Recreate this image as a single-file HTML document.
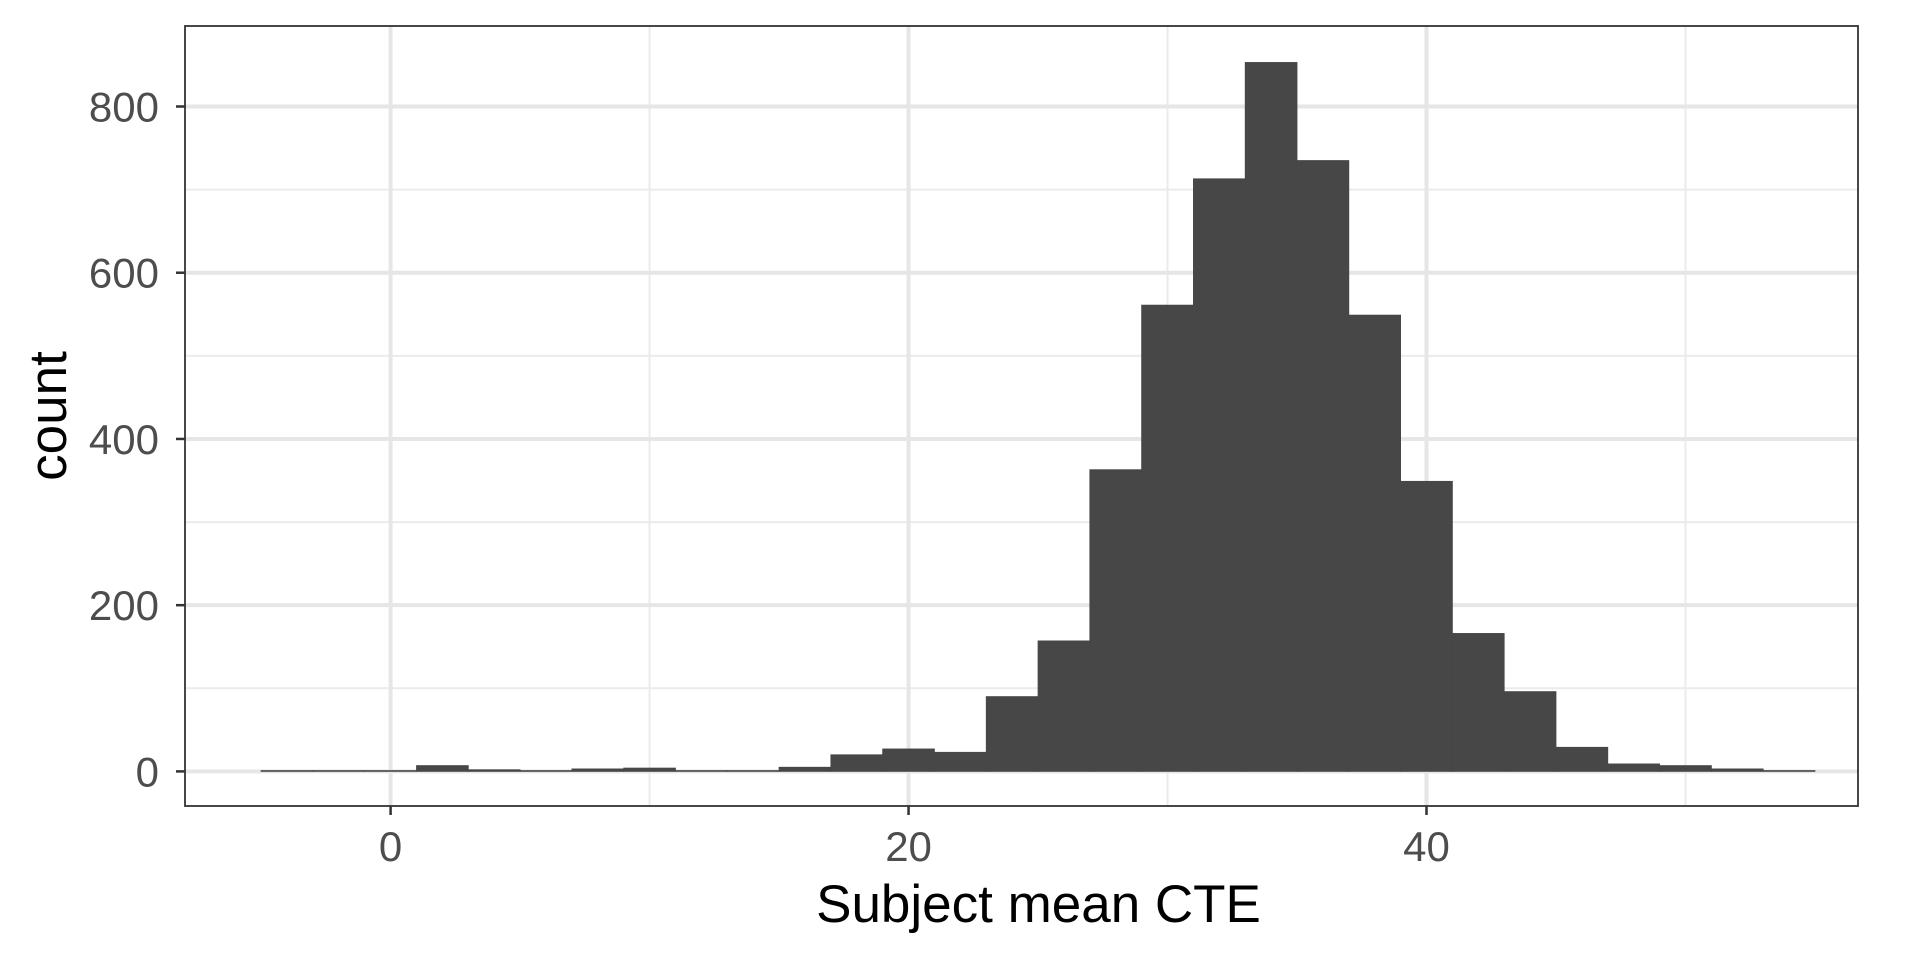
<!DOCTYPE html>
<html><head><meta charset="utf-8"><style>
html,body{margin:0;padding:0;background:#fff;}
svg{display:block;font-family:"Liberation Sans",Arial,sans-serif;}
</style></head><body>
<svg id="chart" width="1920" height="960"></svg>
<script>
const binStarts = [-5,-3,-1,1,3,5,7,9,11,13,15,17,19,21,23,25,27,29,31,33,35,37,39,41,43,45,47,49,51,53];
const counts = [1,1,1,7,2,1,3,4,1,1,5,20,27,23,90,157,363,561,713,853,735,549,349,166,96,29,9,7,3,1];
const binWidth = 2;
const xTicks = [0,20,40];
const xMinor = [10,30,50];
const yTicks = [0,200,400,600,800];
const yMinor = [100,300,500,700];

const NS='http://www.w3.org/2000/svg';
const svg=document.getElementById('chart');
const P={l:185,r:1858,t:26,b:806};
const X=v=>390.6+(v-0)*(1426.5-390.6)/40;
const Y=v=>771.4-v*(771.4-106.5)/800;
function el(t,a,p){const e=document.createElementNS(NS,t);for(const k in a)e.setAttribute(k,a[k]);(p||svg).appendChild(e);return e;}

el('rect',{x:P.l,y:P.t,width:P.r-P.l,height:P.b-P.t,fill:'#fff'});
const grid=el('g',{});


yMinor.forEach(v=>el('line',{x1:P.l,x2:P.r,y1:Y(v),y2:Y(v),stroke:'#ebebeb','stroke-width':2},grid));
xMinor.forEach(v=>el('line',{y1:P.t,y2:P.b,x1:X(v),x2:X(v),stroke:'#ebebeb','stroke-width':2},grid));
yTicks.forEach(v=>el('line',{x1:P.l,x2:P.r,y1:Y(v),y2:Y(v),stroke:'#e6e6e6','stroke-width':4},grid));
xTicks.forEach(v=>el('line',{y1:P.t,y2:P.b,x1:X(v),x2:X(v),stroke:'#e6e6e6','stroke-width':4},grid));

const bars=el('g',{});


binStarts.forEach((s,i)=>{
  const r=el('rect',{x:X(s),width:X(s+binWidth)-X(s),y:Y(counts[i]),height:Y(0)-Y(counts[i]),fill:'#474747',stroke:'#474747','stroke-width':0.8},bars);
  
  
});

const border=el('rect',{x:P.l,y:P.t,width:P.r-P.l,height:P.b-P.t,fill:'none',stroke:'#333','stroke-width':1.8});



xTicks.forEach(v=>{
  el('line',{x1:X(v),x2:X(v),y1:P.b,y2:P.b+9,stroke:'#333','stroke-width':2.5});
  const t=el('text',{x:X(v),y:P.b+55,'text-anchor':'middle','font-size':42,fill:'#4d4d4d'});
  t.textContent=v;
  
  
});
yTicks.forEach(v=>{
  el('line',{x1:P.l-9,x2:P.l,y1:Y(v),y2:Y(v),stroke:'#333','stroke-width':2.5});
  const t=el('text',{x:P.l-26,y:Y(v)+15,'text-anchor':'end','font-size':42,fill:'#4d4d4d'});
  t.textContent=v;
  
  
});
const xt=el('text',{x:(P.l+P.r)/2+17,y:922,'text-anchor':'middle','font-size':53,fill:'#000'});
xt.textContent='Subject mean CTE';


const yt=el('text',{x:0,y:0,'text-anchor':'middle','font-size':53,fill:'#000',transform:'translate(66,'+((P.t+P.b)/2)+') rotate(-90)'});
yt.textContent='count';


</script>
</body></html>
